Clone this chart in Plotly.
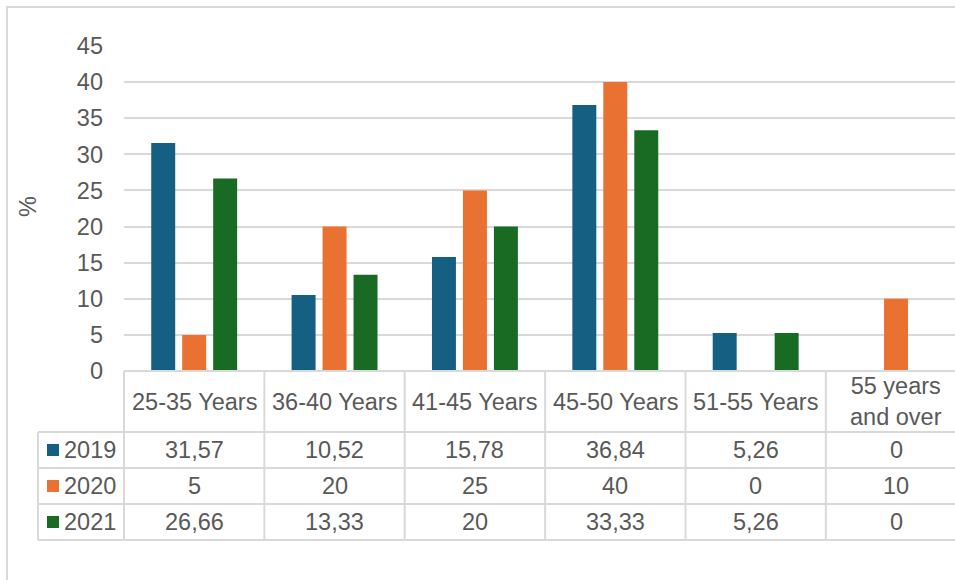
import plotly.graph_objects as go

# Age bands and share of staff (%) per year
categories = ["25-35 Years", "36-40 Years", "41-45 Years", "45-50 Years",
              "51-55 Years", "55 years and over"]
header_labels = ["25-35 Years", "36-40 Years", "41-45 Years", "45-50 Years",
                 "51-55 Years", "55 years<br>and over"]
years = ["2019", "2020", "2021"]
values_2019 = [31.57, 10.52, 15.78, 36.84, 5.26, 0]
values_2020 = [5, 20, 25, 40, 0, 10]
values_2021 = [26.66, 13.33, 20, 33.33, 5.26, 0]
y_ticks = [0, 5, 10, 15, 20, 25, 30, 35, 40, 45]

series = [values_2019, values_2020, values_2021]
colors = ["#156082", "#E97132", "#196B24"]

W, H = 955, 580
L, T, B = 124, 46, 209
PW = W - L
PH = H - T - B
TXT = "#595959"
GRID = "#d9d9d9"
FONT = "Liberation Sans, Arial, sans-serif"
FS = 23.5


def px_x(px):
    return (px - L) / PW


def px_y(py):
    return (H - B - py) / PH


fig = go.Figure()
for name, vals, col in zip(years, series, colors):
    fig.add_trace(go.Bar(x=categories, y=vals, name=name,
                         marker=dict(color=col, line=dict(width=0))))

shapes = []
annotations = []

# outer chart frame
shapes.append(dict(type="rect", xref="paper", yref="paper",
                   x0=px_x(7), x1=px_x(W + 20), y0=px_y(7), y1=px_y(H + 20),
                   line=dict(color=GRID, width=2), fillcolor="rgba(0,0,0,0)",
                   layer="below"))

# data table: horizontal rules
row_lines = [371, 432, 468, 504, 540]
for i, py in enumerate(row_lines):
    x0 = L if i == 0 else 38
    shapes.append(dict(type="line", xref="paper", yref="paper",
                       x0=px_x(x0), x1=1.02, y0=px_y(py), y1=px_y(py),
                       line=dict(color=GRID, width=2)))
# vertical rules
shapes.append(dict(type="line", xref="paper", yref="paper",
                   x0=px_x(38), x1=px_x(38), y0=px_y(432), y1=px_y(540),
                   line=dict(color=GRID, width=2)))
for k in range(len(categories)):
    xb = L + k * (PW / 5.92)
    shapes.append(dict(type="line", xref="paper", yref="paper",
                       x0=px_x(xb), x1=px_x(xb), y0=px_y(371), y1=px_y(540),
                       line=dict(color=GRID, width=2)))

# header row
for cat, lab in zip(categories, header_labels):
    annotations.append(dict(x=cat, xref="x", y=px_y(401.5), yref="paper",
                            text=lab, showarrow=False, xanchor="center",
                            yanchor="middle",
                            font=dict(size=FS, color=TXT, family=FONT)))


def fmt(v):
    return f"{v:g}".replace(".", ",")


row_centers = [450, 486, 522]
for name, vals, col, cy in zip(years, series, colors, row_centers):
    shapes.append(dict(type="rect", xref="paper", yref="paper",
                       x0=px_x(47), x1=px_x(59), y0=px_y(cy - 6), y1=px_y(cy + 6),
                       line=dict(width=0), fillcolor=col))
    annotations.append(dict(x=px_x(62), xref="paper", y=px_y(cy), yref="paper",
                            text=name, showarrow=False, xanchor="left",
                            yanchor="middle",
                            font=dict(size=FS, color=TXT, family=FONT)))
    for cat, v in zip(categories, vals):
        annotations.append(dict(x=cat, xref="x", y=px_y(cy), yref="paper",
                                text=fmt(v), showarrow=False, xanchor="center",
                                yanchor="middle",
                                font=dict(size=FS, color=TXT, family=FONT)))

# y-axis title
annotations.append(dict(x=px_x(28), xref="paper", y=px_y(207), yref="paper",
                        text="%", textangle=-90, showarrow=False,
                        xanchor="center", yanchor="middle",
                        font=dict(size=FS, color=TXT, family=FONT)))

fig.update_layout(
    width=W, height=H,
    margin=dict(l=L, r=0, t=T, b=B, pad=0),
    paper_bgcolor="white", plot_bgcolor="white",
    barmode="group", bargap=0.338, bargroupgap=0.226,
    showlegend=False,
    font=dict(family=FONT, size=FS, color=TXT),
    shapes=shapes, annotations=annotations,
    xaxis=dict(type="category", range=[-0.5, 5.42], showticklabels=False,
               showgrid=False, zeroline=False, showline=False, ticks=""),
    yaxis=dict(range=[0, 45], tickvals=y_ticks, showgrid=True,
               gridcolor=GRID, gridwidth=2, zeroline=False, showline=False,
               ticks="", ticklabelstandoff=20,
               tickfont=dict(size=FS, color=TXT, family=FONT)),
)

fig.write_html("out.html")
